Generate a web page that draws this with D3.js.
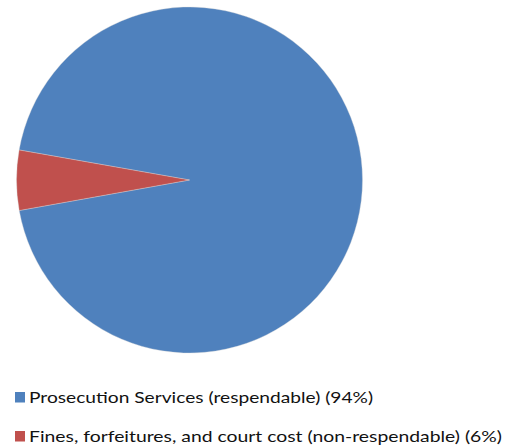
<!DOCTYPE html>
<html>
<head>
<meta charset="utf-8">
<script src="https://cdn.jsdelivr.net/npm/d3@7"></script>
<style>
  html, body { margin: 0; padding: 0; background: #fff; }
  svg { display: block; }
</style>
</head>
<body>
<div id="chart"></div>
<script>
// dane
var categories = ["Prosecution Services (respendable)", "Fines, forfeitures, and court cost (non-respendable)"];
var values = [94.4, 5.6];
var labels = ["94%", "6%"];
var colors = ["#4F81BD", "#C0504D"];

var width = 512, height = 447;

var svg = d3.select("#chart")
    .append("svg")
    .attr("width", width)
    .attr("height", height);

// pie
var cx = 189.5, cy = 180, r = 173;

var pie = d3.pie()
    .sort(null)
    .value(function(d){ return d; })
    .startAngle(-80 * Math.PI / 180)
    .endAngle(280 * Math.PI / 180);

var arc = d3.arc().innerRadius(0).outerRadius(r);

var g = svg.append("g")
    .attr("transform", "translate(" + cx + "," + cy + ")");

g.selectAll("path")
    .data(pie(values))
    .enter()
    .append("path")
    .attr("d", arc)
    .attr("fill", function(d, i){ return colors[i]; })
    .attr("stroke", "#d9d9d9")
    .attr("stroke-width", 0.6)
    .attr("stroke-opacity", 0.6);

// legenda
var legendWidths = [344, 473];
var leg = svg.append("g").attr("transform", "translate(15,0)");

var item = leg.selectAll("g")
    .data(categories)
    .enter()
    .append("g")
    .attr("transform", function(d, i){ return "translate(0," + (392 + i * 39) + ")"; });

item.append("rect")
    .attr("width", 10)
    .attr("height", 10.5)
    .attr("fill", function(d, i){ return colors[i]; });

item.append("text")
    .attr("x", 14)
    .attr("y", 11)
    .attr("textLength", function(d, i){ return legendWidths[i]; })
    .attr("lengthAdjust", "spacingAndGlyphs")
    .style("font-family", "Lato, 'Open Sans', sans-serif")
    .style("font-size", "16px")
    .style("fill", "#111")
    .text(function(d, i){ return d + " (" + labels[i] + ")"; });
</script>
</body>
</html>
